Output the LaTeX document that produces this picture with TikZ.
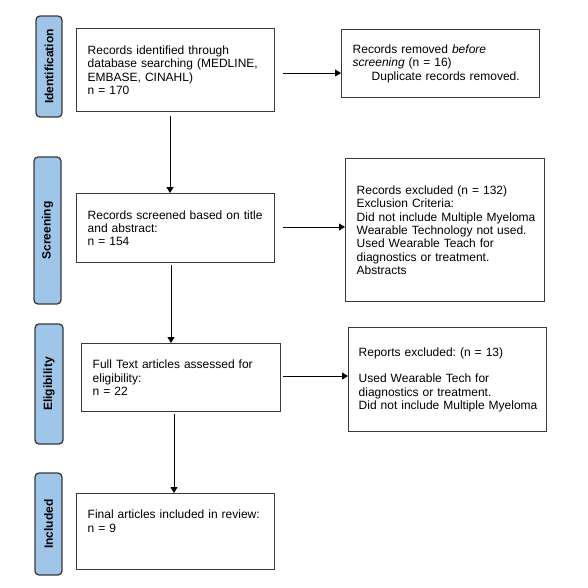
\documentclass[tikz,border=0pt]{standalone}
\usepackage{fontspec}
\setmainfont{Liberation Sans}
\usetikzlibrary{arrows.meta}
\definecolor{barblue}{HTML}{9FC5E8}
\definecolor{boxline}{HTML}{3A3A3A}
\tikzset{
  stagebar/.style={draw=boxline, fill=barblue, line width=1.3pt, rounded corners=4pt, inner sep=0pt},
  stagelabel/.style={rotate=90, font=\fontsize{12}{14}\selectfont\bfseries, inner sep=0pt},
  flowbox/.style={draw=boxline, line width=1.4pt, inner xsep=11pt, inner ysep=0pt, align=left,
    font=\fontsize{12}{13.4}\selectfont\frenchspacing, anchor=north west},
  flowarrow/.style={-{Triangle[length=6pt,width=7pt]}, line width=0.8pt, black},
}
\begin{document}
\begin{tikzpicture}[x=1pt,y=-1pt]
\useasboundingbox (0,0) rectangle (588,587);
% stage bars
\draw[stagebar] (36,16) rectangle (62,117);
\node[stagelabel] (lid) at (49,66.5) {Identification};
\draw[stagebar] (34,157) rectangle (61,304);
\node[stagelabel] (lsc) at (47.5,230.5) {Screening};
\draw[stagebar] (35,324) rectangle (63,444);
\node[stagelabel] (lel) at (49,384) {Eligibility};
\draw[stagebar] (35,473) rectangle (62,575);
\node[stagelabel] (lin) at (48.5,524) {Included};
% boxes
\node[flowbox, text width=176pt, minimum width=198pt, minimum height=83pt] (b1) at (76,28)
  {Records identified through\\database searching (MEDLINE,\\EMBASE, CINAHL)\\n = 170};
\node[flowbox, text width=176pt, minimum width=198pt, minimum height=68pt] (r1) at (341,29)
  {Records removed \textit{before}\\\textit{screening} (n = 16)\\\hspace*{19pt}Duplicate records removed.};
\node[flowbox, text width=176pt, minimum width=198pt, minimum height=69pt] (b2) at (76,193)
  {Records screened based on title\\and abstract:\\n = 154};
\node[flowbox, text width=177pt, minimum width=199pt, minimum height=143pt] (r2) at (345,158)
  {Records excluded (n = 132)\\Exclusion Criteria:\\\mbox{Did not include Multiple Myeloma}\\Wearable Technology not used.\\Used Wearable Teach for\\diagnostics or treatment.\\Abstracts};
\node[flowbox, text width=177pt, minimum width=199pt, minimum height=68pt] (b3) at (81,343)
  {Full Text articles assessed for\\eligibility:\\n = 22};
\node[flowbox, inner xsep=10pt, text width=178pt, minimum width=198pt, minimum height=104pt] (r3) at (348,327)
  {Reports excluded: (n = 13)\\[13.4pt]Used Wearable Tech for\\diagnostics or treatment.\\\mbox{Did not include Multiple Myeloma}};
\node[flowbox, text width=176pt, minimum width=198pt, minimum height=76pt] (b4) at (76,493)
  {Final articles included in review:\\n = 9\\[8pt]\mbox{}};
% connectors
\coordinate (d1) at (170,116);
\coordinate (d2) at (171,265);
\coordinate (d3) at (174,414);
\coordinate (e1) at (283,73);
\coordinate (e2) at (283,227);
\coordinate (e3) at (283,376);
\draw[flowarrow] (d1) -- (d1 |- b2.north);
\draw[flowarrow] (d2) -- (d2 |- b3.north);
\draw[flowarrow] (d3) -- (d3 |- b4.north);
\draw[flowarrow] (e1) -- (e1 -| r1.west);
\draw[flowarrow] (e2) -- (e2 -| r2.west);
\draw[flowarrow] (e3) -- (e3 -| r3.west);
\end{tikzpicture}
\end{document}
